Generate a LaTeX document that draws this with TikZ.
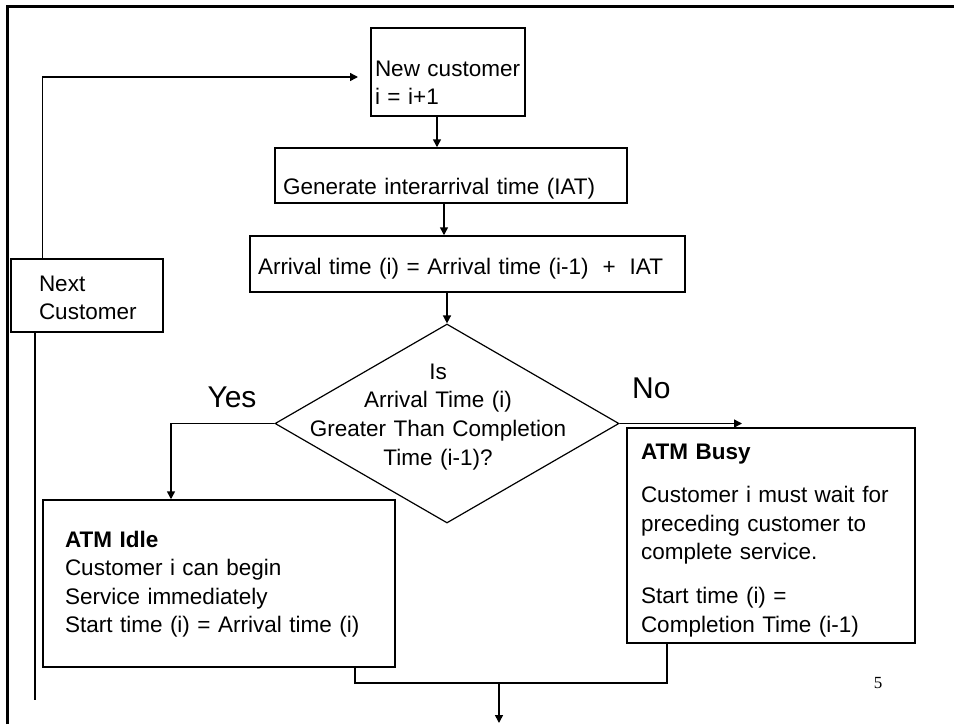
\documentclass[tikz,border=0pt]{standalone}
\usepackage{fontspec}
\setmainfont{Liberation Sans}
\newfontfamily\pagefont{Liberation Serif}
\usetikzlibrary{arrows.meta, shapes.geometric, positioning}

\tikzset{
    box/.style={draw, line width=1.5pt, inner ysep=0pt, align=left,
        font=\fontsize{22.5}{28.5}\selectfont},
    decision/.style={draw, diamond, line width=1.2pt, inner sep=0pt,
        minimum width=344pt, minimum height=199pt},
    qtext/.style={align=center, text width=300pt, inner sep=0pt,
        font=\fontsize{22.5}{28.7}\selectfont},
    branch/.style={inner sep=0pt, font=\fontsize{30}{36}\selectfont},
    flow/.style={line width=1.5pt},
    arrow/.style={flow, -{Triangle[length=8pt, width=8pt]}},
}

\begin{document}
\begin{tikzpicture}[x=1pt, y=-1pt]
    \useasboundingbox (0,0) rectangle (954,724);

    % --- Cadre ---
    \coordinate (fbl) at (7,724);
    \coordinate (ftl) at (7,6);
    \coordinate (ftr) at (954,6);
    \draw[line width=3pt] (fbl) -- (ftl) -- (ftr);

    % --- Boites ---
    \node[box, inner xsep=4pt, text width=146pt, text height=48pt, text depth=40pt]
        (newc) at (448,72) {\mbox{New customer}\\i = i+1};
    \node[box, inner xsep=8pt, text width=336pt, text height=46pt, text depth=9pt]
        (gen) at (451,175.5) {Generate interarrival time (IAT)};
    \node[box, inner xsep=8pt, text width=419pt, text height=38pt, text depth=18pt]
        (arr) at (467.5,264) {Arrival time (i) = Arrival time (i-1)\hspace{14pt}+\hspace{14pt}IAT};
    \node[box, inner xsep=28pt, text width=96pt, text height=32pt, text depth=41pt]
        (nextc) at (87,295.5) {Next\\\mbox{Customer}};

    % --- Test ---
    \node[decision] (q) at (447,423.5) {};
    \node[qtext, anchor=base] (qtxt) at (438,379)
        {Is\\Arrival Time (i)\\Greater Than Completion\\Time (i-1)?};
    \node[branch, anchor=base] (lyes) at (232,407) {Yes};
    \node[branch, anchor=base west] (lno) at (632,398) {No};

    % --- Branches ---
    \node[box, inner xsep=22pt, text width=308pt, text height=47pt, text depth=120pt]
        (idle) at (219,583.5)
        {\textbf{ATM Idle}\\Customer i can begin\\Service immediately\\Start time (i) = Arrival time (i)};
    \node[box, inner xsep=14pt, text width=260pt, text height=31pt, text depth=184pt]
        (busy) at (771,535.5)
        {\textbf{ATM Busy}\\[15pt]Customer i must wait for\\preceding customer to\\complete service.\\[15.5pt]Start time (i) =\\Completion Time (i-1)};

    \node[font=\pagefont\fontsize{17}{20}\selectfont, anchor=base, inner sep=0pt]
        (pnum) at (878,688) {5};

    % --- Liaisons ---
    \coordinate (loopend) at (358,77);
    \draw[arrow] ([xshift=32pt]nextc.north west) |- (loopend);
    \draw[arrow] ([xshift=-11pt]newc.south) -- ([xshift=-11pt]newc.south |- gen.north);
    \draw[arrow] ([xshift=-7pt]gen.south) -- ([xshift=-7pt]gen.south |- arr.north);
    \draw[arrow] (q.north |- arr.south) -- (q.north);

    % Oui / Non
    \draw[arrow] (q.west) -| ([xshift=-48pt]idle.north);
    \coordinate (noend) at (742,420);
    \draw[arrow] (q.east) -- (q.east -| noend);

    % Regroupement
    \coordinate (mleft) at (355,683);
    \coordinate (mright) at (667,683);
    \coordinate (mout) at (499,683);
    \coordinate (exit) at (499,723);
    \draw[flow] (idle.south -| mleft) -- (mleft) -- (mright) -- (busy.south -| mright);
    \draw[arrow] (mout) -- (exit);

    % Retour
    \coordinate (back) at (35,700);
    \draw[flow] (nextc.south -| back) -- (back);
\end{tikzpicture}
\end{document}
